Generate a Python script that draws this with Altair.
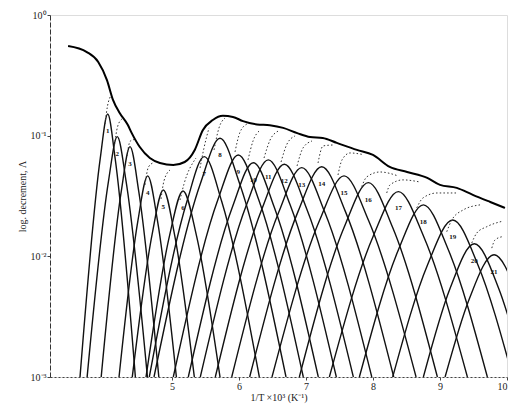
import altair as alt
import pandas as pd
import numpy as np

# ---- envelope (total log. decrement) ----
env_x = [3.45, 3.73, 3.90, 4.03, 4.12, 4.22, 4.34, 4.40, 4.52, 4.67, 4.82, 5.02,
         5.19, 5.34, 5.46, 5.61, 5.76, 5.91, 6.06, 6.27, 6.46, 6.66, 6.87, 7.06,
         7.25, 7.46, 7.76, 8.00, 8.25, 8.51, 8.81, 9.00, 9.25, 9.49, 9.75, 9.97]
env_y = [0.553, 0.493, 0.408, 0.289, 0.198, 0.154, 0.123, 0.105, 0.0805, 0.0653,
         0.0594, 0.0571, 0.0605, 0.0762, 0.111, 0.135, 0.146, 0.143, 0.132, 0.124,
         0.122, 0.116, 0.105, 0.0975, 0.0957, 0.0871, 0.0762, 0.0692, 0.0551,
         0.0500, 0.0447, 0.0391, 0.0369, 0.0323, 0.0282, 0.0252]

# ---- component peaks: position, height, feet at 1e-3 ----
peak_id = list(range(1, 22))
peak_x = [4.041, 4.184, 4.374, 4.638, 4.871, 5.165, 5.483, 5.717, 5.990, 6.214,
          6.438, 6.677, 6.937, 7.235, 7.568, 7.931, 8.379, 8.752, 9.190, 9.513, 9.807]
peak_top = [0.151, 0.0982, 0.0811, 0.0464, 0.0355, 0.0348, 0.0670, 0.0951, 0.0692,
            0.0597, 0.0630, 0.0579, 0.0543, 0.0553, 0.0464, 0.0408, 0.0344, 0.0267,
            0.0200, 0.0127, 0.0103]
foot_left = [3.628, 3.734, 3.944, 4.210, 4.408, 4.613, 4.662, 4.732, 5.020, 5.244,
             5.423, 5.647, 5.892, 6.160, 6.493, 6.901, 7.349, 7.797, 8.294, 8.752, 9.076]
foot_right = [4.454, 4.634, 4.804, 5.066, 5.334, 5.717, 6.304, 6.702, 6.960, 7.184,
              7.453, 7.707, 7.982, 8.310, 8.643, 8.961, 9.409, 9.707, 10.086, 10.274, 10.538]
base_val = 0.001

# ---- dotted partial-sum arcs above each peak ----
arc_x = [
    [4.001, 4.038, 4.090], [4.143, 4.187, 4.255], [4.329, 4.376, 4.440],
    [4.598, 4.650, 4.732], [4.837, 4.881, 4.971], [5.120, 5.180, 5.359],
    [5.419, 5.478, 5.553], [5.628, 5.702, 5.792], [5.941, 6.016, 6.120],
    [6.135, 6.210, 6.314], [6.374, 6.464, 6.583], [6.628, 6.717, 6.837],
    [6.867, 6.956, 7.090], [7.180, 7.255, 7.418], [7.478, 7.538, 7.658, 7.837],
    [7.832, 7.907, 8.105, 8.374], [8.205, 8.254, 8.448, 8.702],
    [8.653, 8.747, 8.956, 9.254], [9.101, 9.176, 9.344, 9.598],
    [9.474, 9.549, 9.698, 9.941], [9.773, 9.822, 9.941]]
arc_y = [
    [0.125, 0.176, 0.215], [0.0838, 0.118, 0.138], [0.0679, 0.090, 0.093],
    [0.0391, 0.0551, 0.060], [0.0299, 0.0422, 0.0520], [0.0293, 0.0398, 0.0653],
    [0.0540, 0.0791, 0.116], [0.0762, 0.116, 0.140], [0.0733, 0.107, 0.125],
    [0.0630, 0.0904, 0.111], [0.0653, 0.0920, 0.109], [0.0605, 0.0853, 0.0995],
    [0.0561, 0.0791, 0.0904], [0.0594, 0.0822, 0.0838], [0.0472, 0.0630, 0.0719, 0.070],
    [0.0378, 0.0455, 0.0500, 0.0464], [0.0335, 0.0391, 0.0430, 0.0413],
    [0.0252, 0.0305, 0.0335, 0.0335], [0.0160, 0.0200, 0.0242, 0.0267],
    [0.0129, 0.0156, 0.0176, 0.0196], [0.0117, 0.0137, 0.0146]]

x_ticks = [5, 6, 7, 8, 9, 10]
y_ticks = [0.001, 0.01, 0.1, 1]

# ---- build tables ----
env_df = pd.DataFrame({"x": env_x, "y": env_y})

rows = []
for k, pid in enumerate(peak_id):
    xt, yt, fl, fr = peak_x[k], peak_top[k], foot_left[k], foot_right[k]
    drop = np.log10(yt) - np.log10(base_val)
    sh_val = yt * 10 ** (-0.37)
    dl = (xt - fl) * 0.67 / (drop + 0.3)
    dr = (fr - xt) * 0.67 / (drop + 0.3)
    pts = [(fl, base_val), (xt - dl, sh_val), (xt, yt), (xt + dr, sh_val), (fr, base_val)]
    for j, (px, py) in enumerate(pts):
        rows.append({"peak": pid, "i": j, "x": px, "y": py})
peaks_df = pd.DataFrame(rows)

arc_rows = []
for k, (xs_, ys_) in enumerate(zip(arc_x, arc_y)):
    for j, (ax_, ay_) in enumerate(zip(xs_, ys_)):
        arc_rows.append({"arc": k + 1, "i": j, "x": ax_, "y": ay_})
arcs_df = pd.DataFrame(arc_rows)

lab_df = pd.DataFrame({"x": peak_x, "y": [v * 10 ** (-0.14) for v in peak_top],
                       "t": [str(p) for p in peak_id]})

FONT = "Liberation Serif"
xs = alt.Scale(domain=[3.18, 10.0], nice=False, zero=False)
ys = alt.Scale(type="log", domain=[0.001, 1], nice=False)

X = alt.X("x:Q", scale=xs, axis=alt.Axis(
    values=x_ticks, title="1/T ×10³ (K⁻¹)", grid=False, tickSize=3,
    labelFontSize=10, titleFontSize=10, labelFont=FONT, titleFont=FONT,
    titleFontWeight="normal",
    labelPadding=1, titlePadding=1, domainDash=[2, 2], domainColor="#444",
    tickColor="#444", labelColor="#222", titleColor="#222", format="d"))
Y = alt.Y("y:Q", scale=ys, axis=alt.Axis(
    values=y_ticks, title="log. decrement, Λ", grid=False, tickSize=3,
    labelExpr="datum.value > 0.5 ? '10⁰' : datum.value > 0.05 ? '10⁻¹' : datum.value > 0.005 ? '10⁻²' : '10⁻³'",
    labelFontSize=10, titleFontSize=10, labelFont=FONT, titleFont=FONT,
    titleFontWeight="normal",
    labelPadding=1, titlePadding=3, domainDash=[5, 2], domainColor="#333",
    tickColor="#444", labelColor="#222", titleColor="#222"))

peaks = alt.Chart(peaks_df).mark_line(
    interpolate="monotone", color="#111", strokeWidth=1.4, clip=True
).encode(x=X, y=Y, detail="peak:N", order="i:Q")

arcs = alt.Chart(arcs_df).mark_line(
    interpolate="monotone", color="#333", strokeWidth=1, strokeDash=[1.5, 2.2], clip=True
).encode(x=X, y=Y, detail="arc:N", order="i:Q")

env = alt.Chart(env_df).mark_line(
    interpolate="monotone", color="#000", strokeWidth=2, clip=True
).encode(x=X, y=Y)

labels = alt.Chart(lab_df).mark_text(
    fontSize=7, font=FONT, fontWeight="bold", baseline="middle"
).encode(x=X, y=Y, text="t:N", color=alt.value("#111"))

chart = alt.layer(peaks, arcs, env, labels).properties(
    width=457, height=362,
    autosize=alt.AutoSizeParams(type="none"),
    padding={"left": 50, "top": 15, "right": 15, "bottom": 32},
).configure_view(
    stroke="#444", strokeDash=[6, 4], strokeWidth=1
).configure(background="white")

chart.save("out.html", embed_options={"renderer": "svg", "actions": False})
